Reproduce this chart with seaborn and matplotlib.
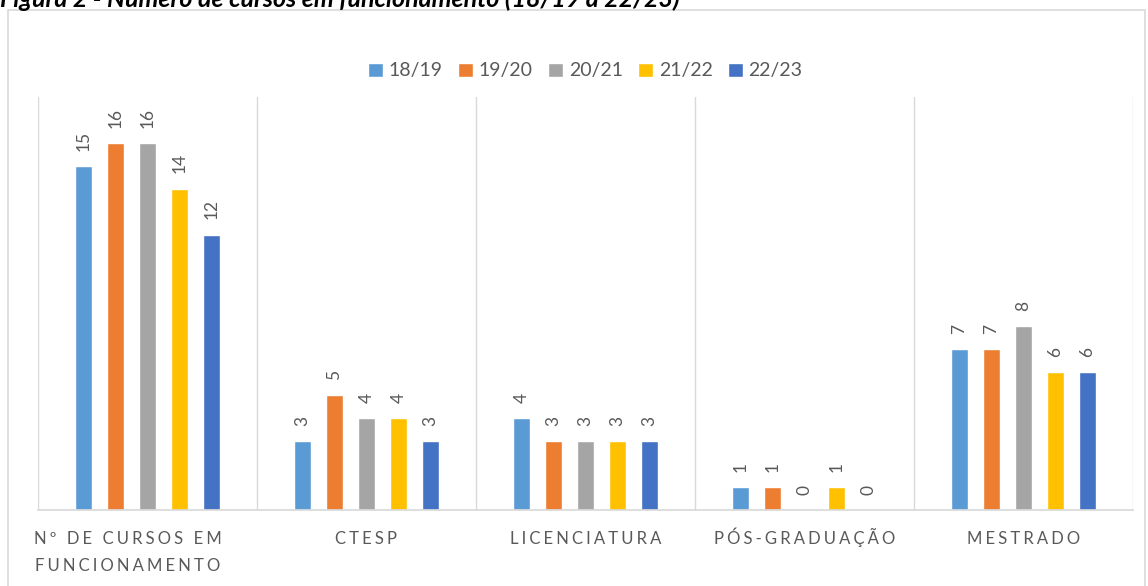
import numpy as np
import pandas as pd
import matplotlib.pyplot as plt
import seaborn as sns

# Data
categories = ["Nº DE CURSOS EM\nFUNCIONAMENTO", "CTESP", "LICENCIATURA",
              "PÓS-GRADUAÇÃO", "MESTRADO"]
years = ["18/19", "19/20", "20/21", "21/22", "22/23"]
v_1819 = [15, 3, 4, 1, 7]
v_1920 = [16, 5, 3, 1, 7]
v_2021 = [16, 4, 3, 0, 8]
v_2122 = [14, 4, 3, 1, 6]
v_2223 = [12, 3, 3, 0, 6]
colors = ["#5B9BD5", "#ED7D31", "#A5A5A5", "#FFC000", "#4472C4"]

rows = []
for year, vals in zip(years, [v_1819, v_1920, v_2021, v_2122, v_2223]):
    for cat, v in zip(categories, vals):
        rows.append({"Categoria": cat, "Ano": year, "Valor": v})
df = pd.DataFrame(rows)

sns.set_theme(style="white")
plt.rcParams["font.family"] = ["Lato", "DejaVu Sans"]
grey = "#595959"


def spaced(s):
    # imitate the wide letter spacing of the category labels
    return "\u2009\u200a".join(s)


fig = plt.figure(figsize=(11.48, 5.86), dpi=100)
ax = fig.add_axes([0.033, 0.1297, 0.954, 0.7048])

sns.barplot(data=df, x="Categoria", y="Valor", hue="Ano", palette=colors,
            width=0.73, gap=0.47, saturation=1, ax=ax, order=categories,
            hue_order=years)

for cont in ax.containers:
    ax.bar_label(cont, rotation=90, padding=11, color=grey, fontsize=12.5)

ax.set_ylim(0, 18)
ax.set_xlim(-0.5, 4.5)
ax.set_yticks([])
ax.set_xlabel("")
ax.set_ylabel("")
ax.set_xticks(range(len(categories)))
ax.set_xticklabels([])
ax.set_xticks(np.arange(-0.5, 5), minor=True)
ax.grid(axis="x", which="minor", color="#D9D9D9", linewidth=1)
ax.tick_params(axis="x", which="both", length=0)
for s in ["top", "right", "left"]:
    ax.spines[s].set_visible(False)
ax.spines["bottom"].set_color("#D9D9D9")

# category labels, each line on its own baseline below the axis
# (the wrapped first label sits a little left of its group, as in the reference)
for i, cat in enumerate(categories):
    lines = cat.split("\n")
    dx = -14 if len(lines) > 1 else 0
    for j, line in enumerate(lines):
        ax.annotate(spaced(line), xy=(i, 0), xycoords=("data", "axes fraction"),
                    xytext=(dx, -24.5 - j * 19.5), textcoords="offset points",
                    ha="center", va="baseline", color=grey, fontsize=12)

handles, labels = ax.get_legend_handles_labels()
ax.legend(handles, labels, ncol=5, loc="center", bbox_to_anchor=(0.5, 1.063),
          frameon=False, fontsize=14, handlelength=0.75, handleheight=0.75,
          handletextpad=0.3, columnspacing=0.8, labelcolor=grey)

# chart frame
fig.patches.append(plt.Rectangle((8 / 1148, -0.01), 1137 / 1148, 1 - 10 / 586 + 0.01,
                                 transform=fig.transFigure, fill=False,
                                 edgecolor="#D9D9D9", linewidth=1.2))

# title, cut by the crop as in the reference
fig.text(0.0, 1 - 7 / 586, "Figura 2 - Número de cursos em funcionamento (18/19 a 22/23)",
         fontsize=18, fontweight="bold", fontstyle="italic", va="baseline",
         ha="left", color="black")

fig.savefig("out.png", dpi=100)
